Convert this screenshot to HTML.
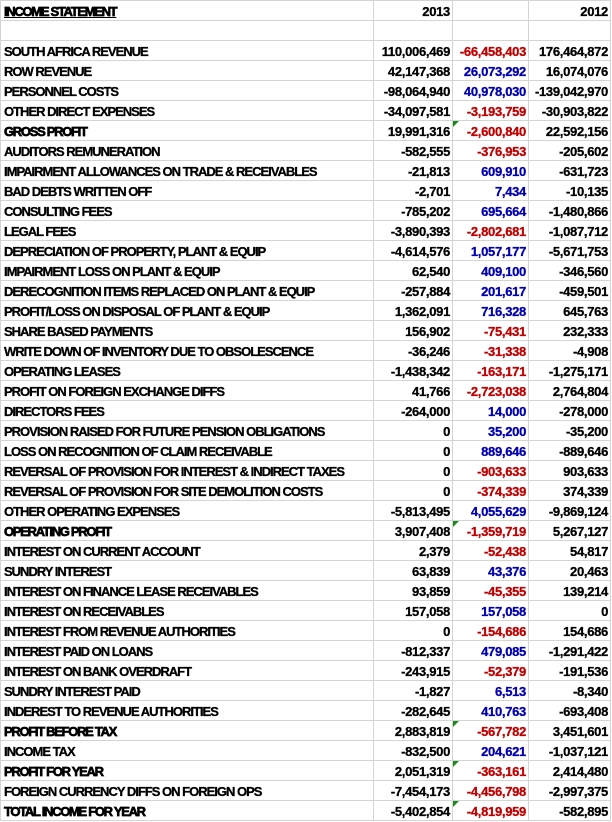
<!DOCTYPE html>
<html><head><meta charset="utf-8"><style>
html,body{margin:0;padding:0;background:#fff;width:612px;height:822px;overflow:hidden}
table{border-collapse:collapse;table-layout:fixed;position:absolute;left:0;top:0}
tr{height:20px}
td{height:19px;max-height:19px;border:1px solid #d4d4d4;padding:0 3px;font-family:"Liberation Sans",sans-serif;font-weight:bold;font-size:13px;letter-spacing:-1px;white-space:nowrap;overflow:hidden;color:#000;line-height:17px;padding-top:2px;box-sizing:border-box;position:relative;-webkit-text-stroke:0.3px}
td.n{text-align:right;letter-spacing:-0.3px;padding-right:2px}
.r{color:#c00000}.b{color:#0000b0}
.t::before{content:"";position:absolute;left:0;top:0;border-top:6px solid #1a8a1a;border-right:6px solid transparent}
.h{letter-spacing:-1.3px;-webkit-text-stroke:0.7px}
</style></head><body>
<table>
<colgroup><col style="width:373px"><col style="width:79px"><col style="width:76px"><col style="width:82px"></colgroup>
<tr><td class="h"><u>INCOME STATEMENT</u></td><td class="n">2013</td><td></td><td class="n">2012</td></tr>
<tr><td></td><td></td><td></td><td></td></tr>
<tr><td>SOUTH AFRICA REVENUE</td><td class="n">110,006,469</td><td class="n r">-66,458,403</td><td class="n">176,464,872</td></tr>
<tr><td>ROW REVENUE</td><td class="n">42,147,368</td><td class="n b">26,073,292</td><td class="n">16,074,076</td></tr>
<tr><td>PERSONNEL COSTS</td><td class="n">-98,064,940</td><td class="n b">40,978,030</td><td class="n">-139,042,970</td></tr>
<tr><td>OTHER DIRECT EXPENSES</td><td class="n">-34,097,581</td><td class="n r">-3,193,759</td><td class="n">-30,903,822</td></tr>
<tr><td class="h">GROSS PROFIT</td><td class="n">19,991,316</td><td class="n r t">-2,600,840</td><td class="n">22,592,156</td></tr>
<tr><td>AUDITORS REMUNERATION</td><td class="n">-582,555</td><td class="n r">-376,953</td><td class="n">-205,602</td></tr>
<tr><td>IMPAIRMENT ALLOWANCES ON TRADE &amp; RECEIVABLES</td><td class="n">-21,813</td><td class="n b">609,910</td><td class="n">-631,723</td></tr>
<tr><td>BAD DEBTS WRITTEN OFF</td><td class="n">-2,701</td><td class="n b">7,434</td><td class="n">-10,135</td></tr>
<tr><td>CONSULTING FEES</td><td class="n">-785,202</td><td class="n b">695,664</td><td class="n">-1,480,866</td></tr>
<tr><td>LEGAL FEES</td><td class="n">-3,890,393</td><td class="n r">-2,802,681</td><td class="n">-1,087,712</td></tr>
<tr><td>DEPRECIATION OF PROPERTY, PLANT &amp; EQUIP</td><td class="n">-4,614,576</td><td class="n b">1,057,177</td><td class="n">-5,671,753</td></tr>
<tr><td>IMPAIRMENT LOSS ON PLANT &amp; EQUIP</td><td class="n">62,540</td><td class="n b">409,100</td><td class="n">-346,560</td></tr>
<tr><td>DERECOGNITION ITEMS REPLACED ON PLANT &amp; EQUIP</td><td class="n">-257,884</td><td class="n b">201,617</td><td class="n">-459,501</td></tr>
<tr><td>PROFIT/LOSS ON DISPOSAL OF PLANT &amp; EQUIP</td><td class="n">1,362,091</td><td class="n b">716,328</td><td class="n">645,763</td></tr>
<tr><td>SHARE BASED PAYMENTS</td><td class="n">156,902</td><td class="n r">-75,431</td><td class="n">232,333</td></tr>
<tr><td>WRITE DOWN OF INVENTORY DUE TO OBSOLESCENCE</td><td class="n">-36,246</td><td class="n r">-31,338</td><td class="n">-4,908</td></tr>
<tr><td>OPERATING LEASES</td><td class="n">-1,438,342</td><td class="n r">-163,171</td><td class="n">-1,275,171</td></tr>
<tr><td>PROFIT ON FOREIGN EXCHANGE DIFFS</td><td class="n">41,766</td><td class="n r">-2,723,038</td><td class="n">2,764,804</td></tr>
<tr><td>DIRECTORS FEES</td><td class="n">-264,000</td><td class="n b">14,000</td><td class="n">-278,000</td></tr>
<tr><td>PROVISION RAISED FOR FUTURE PENSION OBLIGATIONS</td><td class="n">0</td><td class="n b">35,200</td><td class="n">-35,200</td></tr>
<tr><td>LOSS ON RECOGNITION OF CLAIM RECEIVABLE</td><td class="n">0</td><td class="n b">889,646</td><td class="n">-889,646</td></tr>
<tr><td>REVERSAL OF PROVISION FOR INTEREST &amp; INDIRECT TAXES</td><td class="n">0</td><td class="n r">-903,633</td><td class="n">903,633</td></tr>
<tr><td>REVERSAL OF PROVISION FOR SITE DEMOLITION COSTS</td><td class="n">0</td><td class="n r">-374,339</td><td class="n">374,339</td></tr>
<tr><td>OTHER OPERATING EXPENSES</td><td class="n">-5,813,495</td><td class="n b">4,055,629</td><td class="n">-9,869,124</td></tr>
<tr><td class="h">OPERATING PROFIT</td><td class="n">3,907,408</td><td class="n r t">-1,359,719</td><td class="n">5,267,127</td></tr>
<tr><td>INTEREST ON CURRENT ACCOUNT</td><td class="n">2,379</td><td class="n r">-52,438</td><td class="n">54,817</td></tr>
<tr><td>SUNDRY INTEREST</td><td class="n">63,839</td><td class="n b">43,376</td><td class="n">20,463</td></tr>
<tr><td>INTEREST ON FINANCE LEASE RECEIVABLES</td><td class="n">93,859</td><td class="n r">-45,355</td><td class="n">139,214</td></tr>
<tr><td>INTEREST ON RECEIVABLES</td><td class="n">157,058</td><td class="n b">157,058</td><td class="n">0</td></tr>
<tr><td>INTEREST FROM REVENUE AUTHORITIES</td><td class="n">0</td><td class="n r">-154,686</td><td class="n">154,686</td></tr>
<tr><td>INTEREST PAID ON LOANS</td><td class="n">-812,337</td><td class="n b">479,085</td><td class="n">-1,291,422</td></tr>
<tr><td>INTEREST ON BANK OVERDRAFT</td><td class="n">-243,915</td><td class="n r">-52,379</td><td class="n">-191,536</td></tr>
<tr><td>SUNDRY INTEREST PAID</td><td class="n">-1,827</td><td class="n b">6,513</td><td class="n">-8,340</td></tr>
<tr><td>INDEREST TO REVENUE AUTHORITIES</td><td class="n">-282,645</td><td class="n b">410,763</td><td class="n">-693,408</td></tr>
<tr><td class="h">PROFIT BEFORE TAX</td><td class="n">2,883,819</td><td class="n r t">-567,782</td><td class="n">3,451,601</td></tr>
<tr><td>INCOME TAX</td><td class="n">-832,500</td><td class="n b">204,621</td><td class="n">-1,037,121</td></tr>
<tr><td class="h">PROFIT FOR YEAR</td><td class="n">2,051,319</td><td class="n r t">-363,161</td><td class="n">2,414,480</td></tr>
<tr><td>FOREIGN CURRENCY DIFFS ON FOREIGN OPS</td><td class="n">-7,454,173</td><td class="n r">-4,456,798</td><td class="n">-2,997,375</td></tr>
<tr><td class="h">TOTAL INCOME FOR YEAR</td><td class="n">-5,402,854</td><td class="n r t">-4,819,959</td><td class="n">-582,895</td></tr>
</table>
</body></html>
